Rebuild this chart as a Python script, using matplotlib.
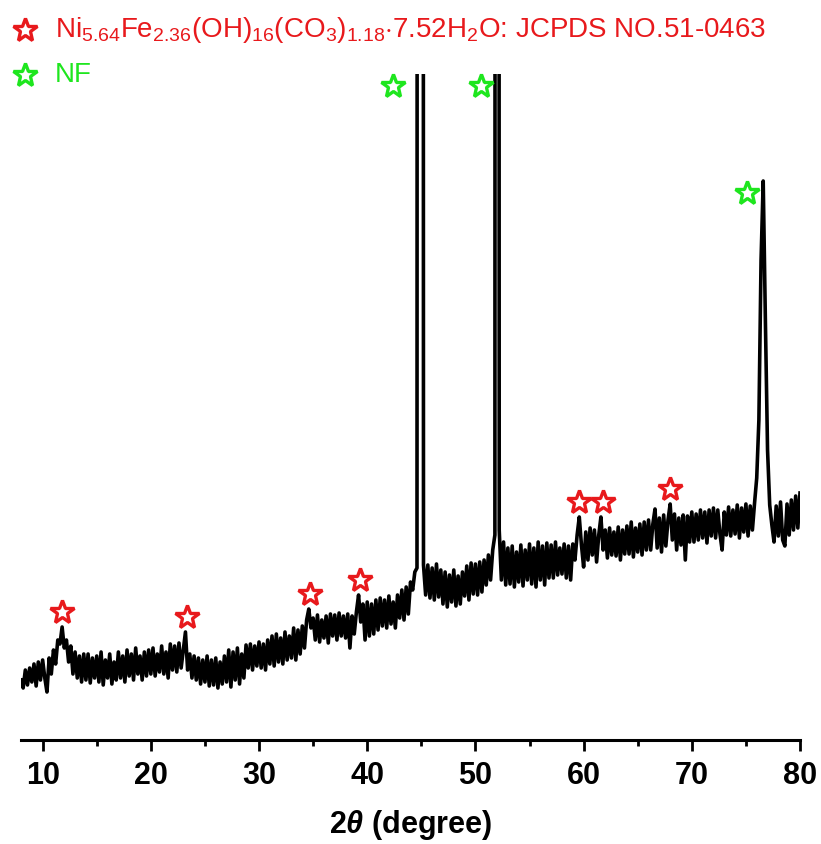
import numpy as np
import matplotlib.pyplot as plt
from matplotlib.lines import Line2D
from matplotlib.ticker import MultipleLocator

plt.rcParams['font.family'] = ['Liberation Sans', 'DejaVu Sans']
plt.rcParams['mathtext.fontset'] = 'custom'
plt.rcParams['mathtext.rm'] = 'Liberation Sans'
plt.rcParams['mathtext.it'] = 'Liberation Sans:italic'
plt.rcParams['mathtext.bf'] = 'Liberation Sans:bold'
plt.rcParams['mathtext.bfit'] = 'Liberation Sans:bold:italic'

# 2theta grid (0.2 deg step) and intensity (a.u.)
two_theta = np.linspace(8, 80, 361)
intensity = np.array([
    60, 52, 70, 55, 72,      # 8
    58, 76, 54, 78, 60,      # 9
    80, 62, 48, 82, 66,      # 10
    90, 76, 100, 96, 113,    # 11
    92, 100, 78, 94, 66,     # 12
    88, 62, 84, 58, 86,      # 13
    60, 86, 57, 82, 62,      # 14
    84, 58, 88, 55, 80,      # 15
    62, 86, 56, 78, 60,      # 16
    88, 62, 84, 58, 90,      # 17
    64, 86, 60, 92, 66,      # 18
    84, 60, 88, 64, 90,      # 19
    66, 92, 64, 86, 68,      # 20
    94, 66, 88, 62, 96,      # 21
    70, 94, 68, 97, 72,      # 22
    90, 108, 70, 86, 62,     # 23
    84, 60, 82, 56, 80,      # 24
    58, 84, 54, 80, 55,      # 25
    82, 52, 78, 56, 84,      # 26
    58, 90, 53, 88, 60,      # 27
    92, 56, 86, 62, 95,      # 28
    72, 96, 70, 94, 74,      # 29
    98, 72, 96, 70, 100,     # 30
    76, 104, 74, 106, 78,    # 31
    102, 76, 108, 80, 104,   # 32
    82, 112, 80, 110, 86,    # 33
    114, 92, 120, 131, 112,  # 34
    122, 100, 125, 98, 120,  # 35
    102, 124, 97, 126, 104,  # 36
    125, 100, 127, 104, 124, # 37
    102, 126, 92, 124, 106,  # 38
    128, 145, 118, 136, 100, # 39
    138, 104, 136, 106, 140, # 40
    110, 142, 114, 140, 112, # 41
    144, 116, 138, 112, 145, # 42
    122, 150, 120, 153, 126, # 43
    158, 150, 168, 172, 9000,  # 44
    9000, 175, 145, 175, 142,  # 45
    172, 140, 176, 143, 170, # 46
    136, 168, 133, 165, 138, # 47
    170, 134, 164, 136, 168, # 48
    144, 174, 140, 177, 146, # 49
    176, 145, 178, 148, 180, # 50
    155, 185, 160, 190, 205, # 51
    9000, 210, 160, 198, 155,  # 52
    192, 156, 194, 153, 188, # 53
    158, 195, 154, 190, 160, # 54
    196, 156, 192, 153, 198, # 55
    160, 194, 155, 197, 162, # 56
    195, 162, 198, 165, 192, # 57
    166, 196, 162, 194, 160, # 58
    196, 180, 205, 223, 195, # 59
    173, 208, 180, 212, 185, # 60
    210, 178, 205, 223, 190, # 61
    210, 182, 212, 185, 208, # 62
    184, 213, 180, 210, 186, # 63
    214, 186, 218, 183, 212, # 64
    188, 216, 185, 218, 190, # 65
    220, 190, 216, 231, 192, # 66
    222, 188, 225, 194, 220, # 67
    236, 200, 226, 190, 222, # 68
    195, 225, 180, 224, 198, # 69
    228, 198, 226, 200, 230, # 70
    202, 228, 197, 230, 204, # 71
    232, 202, 230, 206, 190, # 72
    228, 205, 233, 204, 230, # 73
    206, 235, 202, 232, 208, # 74
    236, 204, 234, 210, 237, # 75
    262, 320, 480, 559, 420, # 76
    290, 235, 215, 198, 234, # 77
    204, 238, 200, 194, 236, # 78
    205, 240, 210, 244, 212, # 79
    247,                     # 80
])

# reference peak positions
ldh_peaks = [11.8, 23.3, 34.7, 39.3, 59.6, 61.8, 68.0]
nf_star_x = [42.4, 50.5, 75.1]

ldh_label = (r'Ni$_{5.64}$Fe$_{2.36}$(OH)$_{16}$(CO$_{3}$)$_{1.18}$'
             r'$\cdot$7.52H$_{2}$O: JCPDS NO.51-0463')
nf_label = 'NF'

red = '#e8191c'
green = '#1ee61e'
ymax = 666

fig = plt.figure(figsize=(8.21, 8.44), dpi=100)
ax = fig.add_axes([21 / 821, 1 - 740 / 844, 779 / 821, 666 / 844])

ax.plot(two_theta, intensity, color='black', lw=2.6)

star = dict(marker='*', ms=18, mfc='white', mew=2.4, ls='none', clip_on=False, zorder=3)

# stars sit just above the local maximum of each reflection
for p in ldh_peaks:
    win = (two_theta > p - 0.31) & (two_theta < p + 0.31)
    ax.plot(p, intensity[win].max() + 15, mec=red, **star)

for xs in nf_star_x:
    win = (two_theta > xs) & (two_theta < xs + 2.5)
    ax.plot(xs, min(intensity[win].max(), ymax) - 12, mec=green, **star)

ax.set_xlim(8, 80)
ax.set_ylim(0, ymax)
ax.xaxis.set_major_locator(MultipleLocator(10))
ax.xaxis.set_minor_locator(MultipleLocator(5))
ax.set_yticks([])
for s in ['left', 'right', 'top']:
    ax.spines[s].set_visible(False)
ax.spines['bottom'].set_linewidth(2.2)
ax.tick_params(axis='x', which='major', length=8, width=2, pad=7)
ax.tick_params(axis='x', which='minor', length=4.5, width=2)
for lab in ax.get_xticklabels():
    lab.set_fontweight('bold')
    lab.set_fontsize(22)

ax.set_xlabel(r'$\mathbf{2}\mathbfit{\theta}$ (degree)', fontsize=22,
              fontweight='bold', labelpad=12)

# legend entries across the top of the figure
for yy, lab, col in [(30, ldh_label, red), (75, nf_label, green)]:
    fig.add_artist(Line2D([25 / 821], [1 - yy / 844], transform=fig.transFigure,
                          marker='*', ms=18, mfc='white', mec=col, mew=2.4))
    fig.text(55 / 821, 1 - yy / 844, lab, color=col, fontsize=20, va='center')

fig.savefig('out.png', dpi=100)
